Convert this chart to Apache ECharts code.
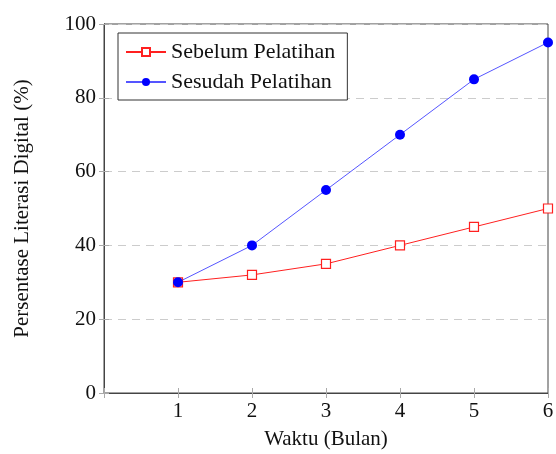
<!DOCTYPE html>
<html><head><meta charset="utf-8">
<script src="https://cdn.jsdelivr.net/npm/echarts@6/dist/echarts.min.js"></script>
<style>html,body{margin:0;padding:0;background:#fff}#c{width:556px;height:454px}</style>
</head><body><div id="c"></div>
<script>
const months = [1, 2, 3, 4, 5, 6];
const sebelum = [30, 32, 35, 40, 45, 50];
const sesudah = [30, 40, 55, 70, 85, 95];
const seriesNames = ['Sebelum Pelatihan', 'Sesudah Pelatihan'];
const xTitle = 'Waktu (Bulan)';
const yTitle = 'Persentase Literasi Digital (%)';

const font = 'Liberation Serif';
const chart = echarts.init(document.getElementById('c'), null, {renderer: 'canvas'});
const axisLine = {show: true, lineStyle: {color: '#444', width: 1}};
const tick = {show: true, inside: true, length: 5, lineStyle: {color: '#aaa'}};
chart.setOption({
  animation: false,
  grid: {left: 104, right: 8, top: 24, bottom: 61, show: true, borderColor: '#444', borderWidth: 1,
    containLabel: false, outerBoundsMode: 'none'},
  xAxis: [{
    type: 'value', min: 0, max: 6, interval: 1, position: 'bottom',
    name: xTitle, nameLocation: 'middle', nameGap: 36,
    nameTextStyle: {fontFamily: font, fontSize: 21, color: '#111'},
    axisLine: axisLine, axisTick: tick,
    axisLabel: {fontFamily: font, fontSize: 21, color: '#111', margin: 8,
      formatter: v => v === 0 ? '' : String(v)},
    splitLine: {show: false}
  }, {
    type: 'value', min: 0, max: 6, interval: 1, position: 'top',
    axisLine: axisLine, axisTick: tick, axisLabel: {show: false}, splitLine: {show: false}
  }],
  yAxis: [{
    type: 'value', min: 0, max: 100, interval: 20, position: 'left',
    name: yTitle, nameLocation: 'middle', nameGap: 71,
    nameTextStyle: {fontFamily: font, fontSize: 21, color: '#111'},
    axisLine: axisLine, axisTick: tick,
    axisLabel: {fontFamily: font, fontSize: 21, color: '#111', margin: 8},
    splitLine: {show: true, lineStyle: {type: [8, 6], color: '#ccc', width: 1}}
  }, {
    type: 'value', min: 0, max: 100, interval: 20, position: 'right',
    axisLine: axisLine, axisTick: tick, axisLabel: {show: false}, splitLine: {show: false}
  }],
  legend: {
    orient: 'vertical', left: 118, top: 33,
    backgroundColor: '#fff', borderColor: '#333', borderWidth: 1,
    padding: [8, 12, 7, 7], itemGap: 8, itemWidth: 40, itemHeight: 10,
    textStyle: {fontFamily: font, fontSize: 22, color: '#111'},
    data: seriesNames
  },
  series: [{
    name: seriesNames[0], type: 'line',
    data: months.map((m, i) => [m, sebelum[i]]),
    symbol: 'rect', symbolSize: 9,
    itemStyle: {color: '#fff', borderColor: '#ff2020', borderWidth: 1.2},
    lineStyle: {color: '#ff2020', width: 1}
  }, {
    name: seriesNames[1], type: 'line',
    data: months.map((m, i) => [m, sesudah[i]]),
    symbol: 'circle', symbolSize: 10,
    itemStyle: {color: '#0000ff'},
    lineStyle: {color: '#5555ff', width: 1}
  }]
});
</script></body></html>
